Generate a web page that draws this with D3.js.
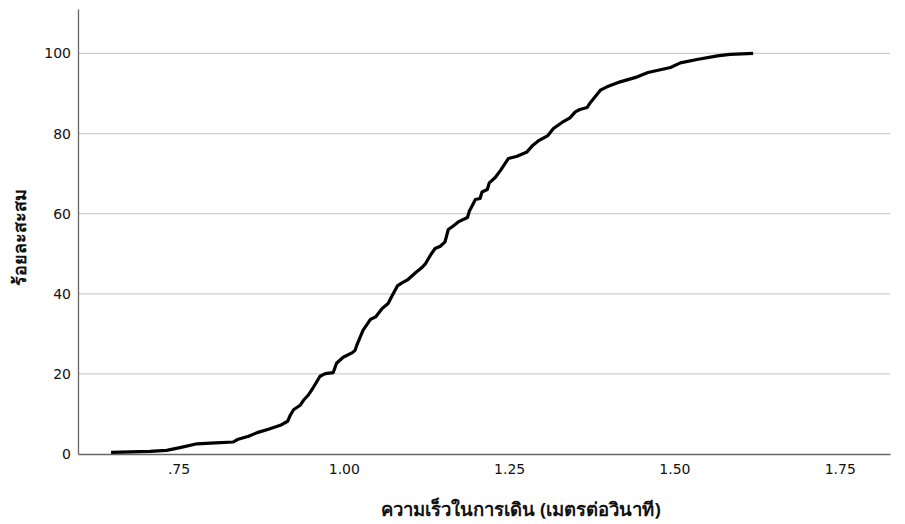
<!DOCTYPE html>
<html>
<head>
<meta charset="utf-8">
<script src="https://cdn.jsdelivr.net/npm/d3@7"></script>
<style>
  html, body { margin: 0; padding: 0; background: #fff; }
  svg { display: block; }
  .title { font-family: "Noto Sans", "DejaVu Sans", sans-serif; font-weight: bold; fill: #111; }
</style>
</head>
<body>
<svg id="chart" width="905" height="524"></svg>
<script>
// Walking speed (m/s) and cumulative percentage
const speed = [0.648, 0.677, 0.707, 0.732, 0.754, 0.778, 0.806, 0.833, 0.839, 0.856,
  0.869, 0.886, 0.904, 0.915, 0.919, 0.924, 0.934, 0.939, 0.946, 0.954,
  0.964, 0.972, 0.984, 0.989, 0.999, 1.013, 1.017, 1.020, 1.029, 1.040,
  1.048, 1.058, 1.067, 1.072, 1.081, 1.088, 1.097, 1.108, 1.119, 1.123,
  1.131, 1.138, 1.146, 1.153, 1.158, 1.165, 1.173, 1.187, 1.190, 1.199,
  1.206, 1.209, 1.217, 1.220, 1.229, 1.237, 1.249, 1.262, 1.277, 1.286,
  1.294, 1.308, 1.317, 1.330, 1.342, 1.350, 1.357, 1.368, 1.373, 1.388,
  1.398, 1.418, 1.444, 1.460, 1.494, 1.509, 1.534, 1.565, 1.584, 1.619];
const cumPct = [0.42, 0.55, 0.67, 0.92, 1.67, 2.55, 2.80, 3.00, 3.60, 4.42,
  5.34, 6.17, 7.17, 8.17, 9.67, 11.04, 12.16, 13.41, 14.66, 16.66,
  19.41, 20.08, 20.33, 22.65, 24.15, 25.32, 25.90, 27.32, 30.89, 33.57,
  34.22, 36.31, 37.56, 39.21, 41.96, 42.71, 43.56, 45.20, 46.70, 47.38,
  49.63, 51.30, 51.87, 52.95, 56.04, 56.87, 57.94, 59.04, 60.69, 63.54,
  63.79, 65.43, 66.03, 67.68, 69.03, 70.80, 73.78, 74.35, 75.42, 77.10,
  78.17, 79.42, 81.27, 82.77, 83.92, 85.41, 86.01, 86.51, 87.76, 90.83,
  91.66, 92.91, 94.16, 95.25, 96.50, 97.65, 98.50, 99.40, 99.75, 100.0];
const xTicks = [0.75, 1.00, 1.25, 1.50, 1.75];
const xTickLabels = [".75", "1.00", "1.25", "1.50", "1.75"];
const yTicks = [0, 20, 40, 60, 80, 100];
const xTitle = "ความเร็วในการเดิน (เมตรต่อวินาที)";
const yTitle = "ร้อยละสะสม";

const svg = d3.select("#chart");
const mLeft = 78, mRight = 890, mTop = 9, mBottom = 454;

const x = d3.scaleLinear().domain([0.598, 1.826]).range([mLeft, mRight]);
const y = d3.scaleLinear().domain([0, 111.1]).range([mBottom, mTop]);

// gridlines
svg.append("g").selectAll("line").data(yTicks.filter(d => d > 0)).join("line")
  .attr("x1", mLeft).attr("x2", mRight)
  .attr("y1", d => y(d)).attr("y2", d => y(d))
  .attr("stroke", "#cfcfcf").attr("stroke-width", 1.2);

function styleTicks(g) {
  g.selectAll(".tick text")
    .style("font-family", "'DejaVu Sans', sans-serif")
    .style("font-size", "14px")
    .style("fill", "#111");
}

// y axis
const yAxis = svg.append("g").attr("transform", `translate(${mLeft},0)`)
  .call(d3.axisLeft(y).tickValues(yTicks).tickSize(0).tickPadding(7).tickFormat(d3.format("d")));
yAxis.select(".domain").attr("stroke", "#666").attr("stroke-width", 1.3);
styleTicks(yAxis);

// x axis
const xAxis = svg.append("g").attr("transform", `translate(0,${mBottom})`)
  .call(d3.axisBottom(x).tickValues(xTicks).tickSize(0).tickPadding(10)
    .tickFormat((d, i) => xTickLabels[i]));
xAxis.select(".domain").attr("stroke", "#666").attr("stroke-width", 1.3);
styleTicks(xAxis);

// curve
const pts = speed.map((s, i) => [s, cumPct[i]]);
svg.append("path").datum(pts)
  .attr("fill", "none").attr("stroke", "#000").attr("stroke-width", 3.2)
  .attr("stroke-linejoin", "round").attr("stroke-linecap", "butt")
  .attr("d", d3.line().x(d => x(d[0])).y(d => y(d[1])));

// titles
svg.append("text").attr("class", "title")
  .attr("x", 521).attr("y", 516).attr("text-anchor", "middle")
  .style("font-size", "18.5px").text(xTitle);
svg.append("text").attr("class", "title")
  .attr("transform", `translate(26,237) rotate(-90)`).attr("text-anchor", "middle")
  .style("font-size", "18px").text(yTitle);
</script>
</body>
</html>
